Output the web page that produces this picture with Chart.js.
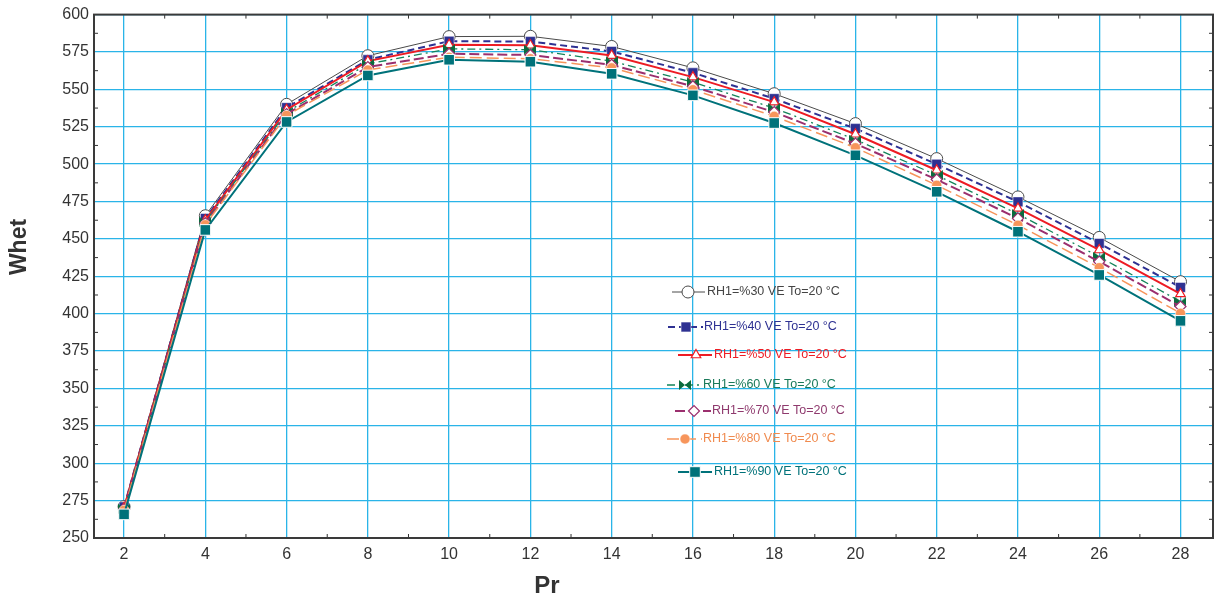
<!DOCTYPE html>
<html>
<head>
<meta charset="utf-8">
<script src="https://cdn.jsdelivr.net/npm/chart.js@4.4.1/dist/chart.umd.min.js"></script>
<style>
  html, body { margin: 0; padding: 0; background: #fff; }
  #wrap { width: 1230px; height: 599px; position: relative; }
</style>
</head>
<body>
<div id="wrap"><canvas id="myChart"></canvas></div>
<script>
// data
const pr = [2, 4, 6, 8, 10, 12, 14, 16, 18, 20, 22, 24, 26, 28];
const rh30 = [271, 465.5, 540, 572.5, 585.3, 585.5, 578.7, 564.4, 547.1, 527.1, 503.7, 478.1, 451, 421.4];
const rh40 = [270.8, 463.7, 537.8, 569.8, 582.2, 582, 575.4, 561.1, 543.8, 523.8, 499.9, 474.8, 447, 417.6];
const rh50 = [270.2, 462.5, 536.4, 568.9, 579.8, 579.5, 572.6, 558.2, 541.5, 520, 495.9, 470.4, 442.6, 413.2];
const rh60 = [269.6, 461.5, 534.8, 567, 577.1, 576.5, 568.9, 554.8, 537.5, 516.4, 492.6, 466.6, 438.1, 408.1];
const rh70 = [269.1, 460.5, 533.5, 564.9, 573.8, 573, 566.4, 552, 534.8, 513.7, 489.7, 463.7, 434.8, 404.8];
const rh80 = [268.6, 459.5, 532.6, 563, 571.5, 570.5, 564.4, 549.8, 532, 511, 485.9, 459.2, 430.8, 400.3];
const rh90 = [265.8, 456, 528.2, 559.3, 569.8, 568.5, 560.4, 546, 527.5, 505.9, 481.5, 454.8, 425.9, 395.2];
const labels = ['RH1=%30 VE To=20 °C', 'RH1=%40 VE To=20 °C', 'RH1=%50 VE To=20 °C',
  'RH1=%60 VE To=20 °C', 'RH1=%70 VE To=20 °C', 'RH1=%80 VE To=20 °C', 'RH1=%90 VE To=20 °C'];
const xTicks = [2, 4, 6, 8, 10, 12, 14, 16, 18, 20, 22, 24, 26, 28];
const yTicks = [250, 275, 300, 325, 350, 375, 400, 425, 450, 475, 500, 525, 550, 575, 600];
const xTitle = 'Pr';
const yTitle = 'Whet';

// bowtie marker for the 60% series
function bowtie(color) {
  var c = document.createElement('canvas');
  c.width = 12; c.height = 10;
  var g = c.getContext('2d');
  g.fillStyle = color;
  g.beginPath();
  g.moveTo(0, 0); g.lineTo(6, 5); g.lineTo(0, 10); g.closePath();
  g.moveTo(12, 0); g.lineTo(6, 5); g.lineTo(12, 10); g.closePath();
  g.fill();
  return c;
}
const tie = bowtie('#0b6b3e');

function pts(arr) {
  return pr.map(function (p, i) { return { x: p, y: arr[i] }; });
}

const styles = [
  { data: rh30, color: '#4a4a4a', text: '#444', width: 1, dash: [], pstyle: 'circle', r: 6, fill: '#fff', pb: 1 },
  { data: rh40, color: '#2e3192', text: '#2e3192', width: 2, dash: [7, 4], pstyle: 'rect', r: 7, fill: '#2e3192', pb: 0.5 },
  { data: rh50, color: '#ed1c24', text: '#ed1c24', width: 2, dash: [], pstyle: 'triangle', r: 5.5, fill: '#fff', pb: 1.2 },
  { data: rh60, color: '#13845a', text: '#1a7a5a', width: 1.3, dash: [8, 4, 2, 4], pstyle: tie, r: 6, fill: '#0b6b3e', pb: 0 },
  { data: rh70, color: '#9b2f6e', text: '#8f3a6e', width: 2, dash: [10, 4], pstyle: 'rectRot', r: 5.5, fill: '#fff', pb: 1.2 },
  { data: rh80, color: '#f7955b', text: '#f08a4e', width: 1.5, dash: [12, 5], pstyle: 'circle', r: 5, fill: '#f7955b', pb: 0.5 },
  { data: rh90, color: '#00727a', text: '#00727a', width: 2, dash: [], pstyle: 'rect', r: 7.5, fill: '#00727a', pb: 1 }
];

const datasets = styles.map(function (s, i) {
  return {
    label: labels[i],
    data: pts(s.data),
    borderColor: s.color,
    borderWidth: s.width,
    borderDash: s.dash,
    pointStyle: s.pstyle,
    pointRadius: s.r,
    pointHoverRadius: s.r,
    pointBackgroundColor: s.fill,
    pointBorderColor: (s.fill === '#fff') ? s.color : '#fff',
    pointBorderWidth: s.pb,
    tension: 0,
    order: 7 - i
  };
});

// legend rows: line start, line end, marker x, y, text x
const legendRows = [
  [672, 705, 688, 292, 707],
  [668, 703, 686, 327, 704],
  [678, 712, 696, 355, 714],
  [667, 702, 685, 385, 703],
  [675, 711, 694, 411, 712],
  [667, 702, 685, 439, 703],
  [678, 712, 695, 472, 714]
];

const framePlugin = {
  id: 'frame',
  beforeDatasetsDraw(chart) {
    const ctx = chart.ctx, a = chart.chartArea;
    const xs = chart.scales.x, ys = chart.scales.y;
    ctx.save();
    ctx.strokeStyle = '#333';
    ctx.lineWidth = 1;
    // minor ticks
    for (let v = 262.5; v < 600; v += 25) {
      const py = ys.getPixelForValue(v);
      ctx.beginPath();
      ctx.moveTo(a.left, py); ctx.lineTo(a.left + 4, py);
      ctx.moveTo(a.right, py); ctx.lineTo(a.right - 4, py);
      ctx.stroke();
    }
    for (let v = 3; v <= 28; v += 2) {
      const px = xs.getPixelForValue(v);
      ctx.beginPath();
      ctx.moveTo(px, a.bottom); ctx.lineTo(px, a.bottom - 4);
      ctx.moveTo(px, a.top); ctx.lineTo(px, a.top + 4);
      ctx.stroke();
    }
    ctx.lineWidth = 2;
    ctx.strokeStyle = '#3a3a3a';
    ctx.strokeRect(a.left, a.top, a.right - a.left, a.bottom - a.top);

    // axis titles
    ctx.fillStyle = '#333';
    ctx.textAlign = 'center';
    ctx.textBaseline = 'middle';
    ctx.font = 'bold 24px "Liberation Sans", Arial, sans-serif';
    ctx.fillText(xTitle, 547, 586);
    ctx.translate(20, 247);
    ctx.rotate(-Math.PI / 2);
    ctx.font = 'bold 23px "Liberation Sans", Arial, sans-serif';
    ctx.fillText(yTitle, 0, 0);
    ctx.restore();
  },
  afterDatasetsDraw(chart) {
    const ctx = chart.ctx;
    ctx.save();
    ctx.font = '12.5px "Liberation Sans", Arial, sans-serif';
    ctx.textBaseline = 'middle';
    styles.forEach(function (s, i) {
      const row = legendRows[i];
      ctx.strokeStyle = s.color;
      ctx.lineWidth = s.width;
      ctx.setLineDash(s.dash);
      ctx.beginPath();
      ctx.moveTo(row[0], row[3]); ctx.lineTo(row[1], row[3]);
      ctx.stroke();
      ctx.setLineDash([]);
      if (typeof s.pstyle !== 'string') {
        ctx.drawImage(s.pstyle, row[2] - 6, row[3] - 5);
      } else {
        ctx.fillStyle = s.fill;
        ctx.strokeStyle = (s.fill === '#fff') ? s.color : '#fff';
        ctx.lineWidth = s.pb;
        Chart.helpers.drawPoint(ctx, { pointStyle: s.pstyle, radius: s.r, rotation: 0, borderWidth: s.pb }, row[2], row[3]);
      }
      ctx.fillStyle = s.text;
      ctx.fillText(labels[i], row[4], row[3]);
    });
    ctx.restore();
  }
};

const ctx = document.getElementById('myChart');
const myChart = new Chart(ctx, {
  type: 'line',
  data: { datasets: datasets },
  plugins: [framePlugin],
  options: {
    responsive: true,
    maintainAspectRatio: false,
    animation: false,
    layout: { padding: { top: 14, right: 17, left: 0, bottom: 0 } },
    scales: {
      x: {
        type: 'linear',
        min: 1.26,
        max: 28.8,
        afterBuildTicks: function (scale) { scale.ticks = xTicks.map(function (v) { return { value: v }; }); },
        afterFit: function (scale) { scale.height = 61; },
        grid: { color: '#2ab4e8', lineWidth: 1.3, drawTicks: false },
        border: { display: false },
        ticks: { padding: 7, color: '#333', font: { size: 16, family: '"Liberation Sans", Arial, sans-serif' }, maxRotation: 0 },
        title: { display: false }
      },
      y: {
        min: 250,
        max: 600,
        afterBuildTicks: function (scale) { scale.ticks = yTicks.map(function (v) { return { value: v }; }); },
        afterFit: function (scale) { scale.width = 94; },
        grid: { color: '#2ab4e8', lineWidth: 1.3, drawTicks: false },
        border: { display: false },
        ticks: { padding: 5, color: '#333', font: { size: 16, family: '"Liberation Sans", Arial, sans-serif' } },
        title: { display: false }
      }
    },
    plugins: {
      legend: { display: false },
      tooltip: { enabled: false }
    }
  }
});
</script>
</body>
</html>
